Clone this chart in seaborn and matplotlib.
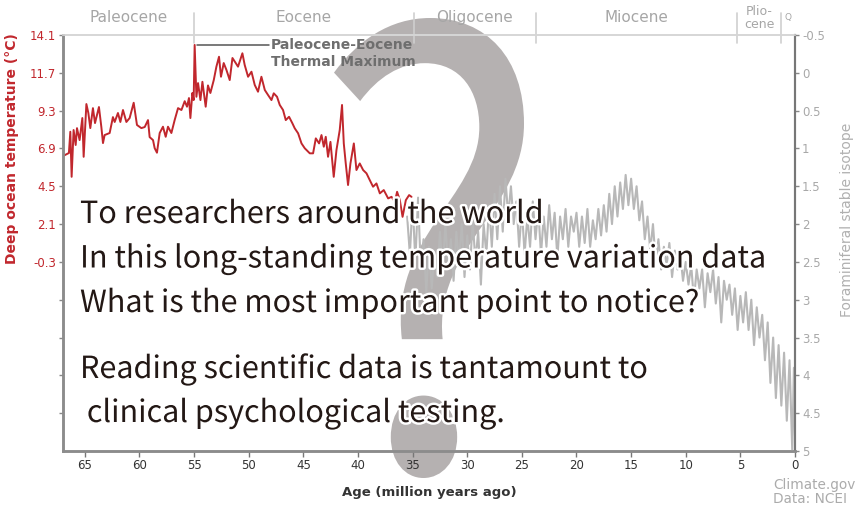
import numpy as np
import pandas as pd
import seaborn as sns
import matplotlib.pyplot as plt
import matplotlib.transforms as mtransforms
import matplotlib.patheffects as pe
from matplotlib.textpath import TextPath
from matplotlib.font_manager import FontProperties
from matplotlib.patches import PathPatch

# deep ocean temperature (red), million years ago / degC
temp_age = [67.0, 66.46, 66.33, 66.21, 66.03, 65.84, 65.72, 65.48, 65.23, 65.11,
            64.86, 64.68, 64.5, 64.26, 64.07, 63.71, 63.49, 63.34, 63.19, 62.73,
            62.43, 62.27, 61.97, 61.75, 61.51, 61.2, 60.9, 60.53, 60.23, 59.83,
            59.52, 59.22, 59.07, 58.76, 58.61, 58.4, 58.15, 57.85, 57.6, 57.39,
            57.08, 56.78, 56.47, 56.16, 55.86, 55.65, 55.47, 55.34, 55.16, 55.04,
            54.95, 54.79, 54.64, 54.42, 54.24, 53.94, 53.73, 53.51, 53.2, 52.96,
            52.72, 52.54, 52.29, 52.04, 51.74, 51.49, 51.19, 50.98, 50.58, 50.37,
            50.06, 49.75, 49.45, 49.15, 48.84, 48.53, 48.23, 47.92, 47.71, 47.41,
            47.16, 46.86, 46.61, 46.31, 46.0, 45.79, 45.48, 45.17, 44.87, 44.41,
            44.11, 43.86, 43.56, 43.34, 43.13, 42.95, 42.74, 42.52, 42.22, 41.97,
            41.67, 41.46, 41.3, 41.12, 40.91, 40.69, 40.38, 40.14, 39.84, 39.53,
            39.22, 38.92, 38.62, 38.31, 38.0, 37.64, 37.24, 36.93, 36.63, 36.42,
            36.17, 35.92, 35.62, 35.32, 35.1]
temp_c = [6.42, 6.61, 7.96, 5.1, 8.07, 7.12, 8.19, 7.43, 8.83, 6.37,
          9.72, 9.15, 8.19, 9.46, 8.51, 9.53, 8.26, 7.24, 7.75, 7.88,
          8.89, 8.58, 9.15, 8.58, 9.34, 8.58, 8.83, 9.8, 8.39, 8.19,
          8.26, 8.7, 7.62, 7.43, 6.92, 6.63, 7.88, 8.28, 7.64, 8.28,
          7.88, 8.7, 9.46, 9.34, 9.9, 9.55, 10.1, 8.83, 10.42, 9.97,
          13.47, 10.18, 11.05, 9.97, 11.13, 9.55, 10.9, 10.42, 11.24, 12.09,
          12.72, 11.45, 12.32, 11.88, 11.24, 12.64, 12.32, 12.09, 12.94, 12.2,
          11.45, 11.77, 10.93, 10.5, 11.45, 10.61, 10.29, 9.97, 10.4, 10.18,
          9.66, 9.34, 8.7, 8.91, 8.49, 8.18, 7.86, 7.22, 6.91, 6.59,
          6.59, 7.54, 7.22, 7.75, 7.01, 7.64, 6.37, 7.32, 5.1, 6.8,
          8.07, 9.66, 7.22, 5.95, 4.58, 5.95, 7.22, 5.53, 5.95, 5.53,
          5.32, 4.89, 4.47, 4.68, 4.05, 4.26, 3.73, 3.83, 3.52, 4.15,
          3.62, 2.56, 3.62, 3.94, 3.83]

# foraminiferal stable isotope (gray), million years ago / permil
iso_age = [35.5, 35.25, 35.0, 34.75, 34.5, 34.25, 34.0, 33.75, 33.5, 33.25,
           33.0, 32.75, 32.5, 32.25, 32.0, 31.75, 31.5, 31.25, 31.0, 30.75,
           30.5, 30.25, 30.0, 29.75, 29.5, 29.25, 29.0, 28.75, 28.5, 28.25,
           28.0, 27.75, 27.5, 27.25, 27.0, 26.75, 26.5, 26.25, 26.0, 25.75,
           25.5, 25.25, 25.0, 24.75, 24.5, 24.25, 24.0, 23.75, 23.5, 23.25,
           23.0, 22.75, 22.5, 22.25, 22.0, 21.75, 21.5, 21.25, 21.0, 20.75,
           20.5, 20.25, 20.0, 19.75, 19.5, 19.25, 19.0, 18.75, 18.5, 18.25,
           18.0, 17.75, 17.5, 17.25, 17.0, 16.75, 16.5, 16.25, 16.0, 15.75,
           15.5, 15.25, 15.0, 14.75, 14.5, 14.25, 14.0, 13.75, 13.5, 13.25,
           13.0, 12.75, 12.5, 12.25, 12.0, 11.75, 11.5, 11.25, 11.0, 10.75,
           10.5, 10.25, 10.0, 9.75, 9.5, 9.25, 9.0, 8.75, 8.5, 8.25,
           8.0, 7.75, 7.5, 7.25, 7.0, 6.75, 6.5, 6.25, 6.0, 5.75,
           5.5, 5.25, 5.0, 4.75, 4.5, 4.25, 4.0, 3.75, 3.5, 3.25,
           3.0, 2.75, 2.5, 2.25, 2.0, 1.75, 1.5, 1.25, 1.0, 0.75,
           0.5, 0.25, 0.1, 0.0]
iso_val = [1.9, 2.4, 1.7, 2.5, 1.65, 2.6, 2.2, 2.9, 2.3, 2.85,
           2.4, 2.7, 2.1, 2.6, 2.0, 2.55, 2.2, 2.75, 2.1, 2.5,
           2.0, 2.7, 2.15, 2.6, 1.95, 2.5, 2.1, 2.8, 2.0, 2.4,
           1.75, 2.3, 1.6, 2.2, 1.5, 2.1, 1.4, 1.9, 1.5, 2.0,
           1.7, 2.3, 1.8, 2.4, 1.9, 2.3, 1.7, 2.2, 1.8, 2.4,
           1.9, 2.3, 1.75, 2.2, 1.85, 2.45, 1.9, 2.2, 1.8, 2.3,
           1.9, 2.1, 1.85, 2.3, 1.9, 2.25, 1.8, 2.3, 1.95, 2.2,
           1.8, 2.15, 1.75, 2.1, 1.6, 2.0, 1.5, 1.9, 1.45, 1.8,
           1.35, 1.75, 1.4, 1.8, 1.5, 1.95, 1.7, 2.2, 1.9, 2.35,
           2.0, 2.5, 2.2, 2.6, 2.3, 2.55, 2.25, 2.7, 2.35, 2.6,
           2.4, 2.75, 2.5, 2.8, 2.55, 3.0, 2.6, 2.85, 2.6, 3.1,
           2.65, 2.9, 2.6, 3.05, 2.7, 3.3, 2.75, 3.0, 2.8, 3.2,
           2.85, 3.4, 2.95, 3.3, 2.9, 3.4, 3.0, 3.6, 3.1, 3.5,
           3.2, 3.8, 3.3, 4.1, 3.5, 4.3, 3.6, 4.4, 3.7, 4.6,
           3.8, 5.0, 3.9, 4.8]

epoch_names = ['Paleocene', 'Eocene', 'Oligocene', 'Miocene', 'Plio-\ncene', 'Q']
epoch_bounds = [67, 55, 34.9, 23.7, 5.3, 1.3, 0]

age_ticks = list(range(0, 70, 5))
temp_ticks = [14.1, 11.7, 9.3, 6.9, 4.5, 2.1, -0.3, -2.7, -5.1, -7.5, -9.9]
temp_labels = ['14.1', '11.7', '9.3', '6.9', '4.5', '2.1', '-0.3', '', '', '', '']
iso_ticks = [-0.5, 0, 0.5, 1, 1.5, 2, 2.5, 3, 3.5, 4, 4.5, 5]
iso_labels = ['-0.5', '0', '0.5', '1', '1.5', '2', '2.5', '3', '3.5', '4', '4.5', '5']

overlay_lines = ['To researchers around the world',
                 'In this long-standing temperature variation data',
                 'What is the most important point to notice?',
                 'Reading scientific data is tantamount to',
                 ' clinical psychological testing.']

RED = '#c1272d'
GRAY = '#b8b8b8'

sns.set_theme(style='white')
plt.rcParams['font.family'] = ['DejaVu Sans']

W, H = 861, 525
fig = plt.figure(figsize=(W / 100, H / 100), dpi=100)
ax = fig.add_axes([63 / W, 1 - 451 / H, (795 - 63) / W, (451 - 35) / H])
ax2 = ax.twinx()

# big question mark behind everything
qp = TextPath((0, 0), '?', size=1, prop=FontProperties(family='Noto Sans CJK JP'))
ext = qp.get_extents()
bx0, by0, bx1, by1 = 334 / W, 1 - 478 / H, 524 / W, 1 - 18 / H
tr = (mtransforms.Affine2D().translate(-ext.x0, -ext.y0)
      .scale((bx1 - bx0) / ext.width, (by1 - by0) / ext.height)
      .translate(bx0, by0))
q = PathPatch(tr.transform_path(qp), transform=fig.transFigure,
              facecolor='#b5b1b1', edgecolor='none', zorder=0.5, clip_on=False)
ax.add_artist(q)

df_t = pd.DataFrame({'age': temp_age, 'temp': temp_c})
df_i = pd.DataFrame({'age': iso_age, 'iso': iso_val})
sns.lineplot(data=df_t, x='age', y='temp', ax=ax, color=RED, lw=1.4,
             estimator=None, sort=False, zorder=2)
sns.lineplot(data=df_i, x='age', y='iso', ax=ax2, color=GRAY, lw=1.5,
             estimator=None, sort=False)

ax.set_xlim(67, 0)
ax.set_ylim(-12.3, 14.1)
ax2.set_ylim(5, -0.5)

ax.set_xticks(age_ticks)
ax.set_xticklabels([str(a) for a in age_ticks], fontsize=8.5, color='#333333')
ax.set_yticks(temp_ticks)
ax.set_yticklabels(temp_labels, fontsize=8.5, color=RED)
ax2.set_yticks(iso_ticks)
ax2.set_yticklabels(iso_labels, fontsize=8.5, color='#a8a8a8')
ax.tick_params(axis='x', direction='out', length=4, width=1, color='#777777', pad=2, bottom=True)
ax.tick_params(axis='y', direction='out', length=3, width=1, color='#888888', pad=2, left=True)
ax2.tick_params(axis='y', direction='out', length=3, width=1, color='#888888', pad=2, right=True)

for a in (ax, ax2):
    a.spines['top'].set_color('#d6d6d6')
    a.spines['top'].set_linewidth(1.2)
    a.spines['left'].set_color('#8c8c8c')
    a.spines['left'].set_linewidth(1.8)
    a.spines['bottom'].set_color('#8c8c8c')
    a.spines['bottom'].set_linewidth(1.8)
    a.spines['right'].set_color('#777777')
    a.spines['right'].set_linewidth(1.5)
    a.grid(False)

ax.set_xlabel('Age (million years ago)', fontsize=9.5, fontweight='bold', color='#333333')
ax.xaxis.set_label_coords(0.501, -0.085)
ax.set_ylabel('Deep ocean temperature (°C)', fontsize=10, fontweight='bold', color=RED)
ax.yaxis.set_label_coords(-0.060, 0.728)
ax2.set_ylabel('Foraminiferal stable isotope', fontsize=10, color='#b0b0b0', rotation=90)
ax2.yaxis.set_label_coords(1.0615, 0.555)

# epoch band on top
xt = ax.get_xaxis_transform()
for b in epoch_bounds[1:-1]:
    ax.plot([b, b], [0.981, 1.053], transform=xt, clip_on=False,
            color='#cfcfcf', lw=1.2, zorder=3)
for name, lo, hi in zip(epoch_names, epoch_bounds[:-1], epoch_bounds[1:]):
    fs = {'Q': 6.5, 'Plio-\ncene': 9}.get(name, 11)
    ax.text((lo + hi) / 2, 1.042, name, transform=xt, ha='center', va='center',
            fontsize=fs, color='#a6a6a6', linespacing=1.0, zorder=3)

# PETM annotation
ax.plot([54.7, 48.1], [13.47, 13.47], color='#555555', lw=1.1, zorder=3)
ax.text(47.95, 13.9, 'Paleocene-Eocene\nThermal Maximum', ha='left', va='top',
        fontsize=10, fontweight='bold', color='#6e6e6e', linespacing=1.3, zorder=3)

fig.text(773 / W, 1 - 478 / H, 'Climate.gov\nData: NCEI', ha='left', va='top',
         fontsize=9.8, color='#ababab', linespacing=1.0)

# overlay message
halo = [pe.withStroke(linewidth=3.5, foreground='white')]
baselines = [223, 267.5, 312, 378, 422]
for line, yb in zip(overlay_lines, baselines):
    fig.text(80 / W, 1 - yb / H, line, ha='left', va='baseline',
             fontsize=22, color='#231815', family=['Noto Sans CJK JP', 'DejaVu Sans'],
             path_effects=halo)

fig.savefig('out.png', dpi=100)
